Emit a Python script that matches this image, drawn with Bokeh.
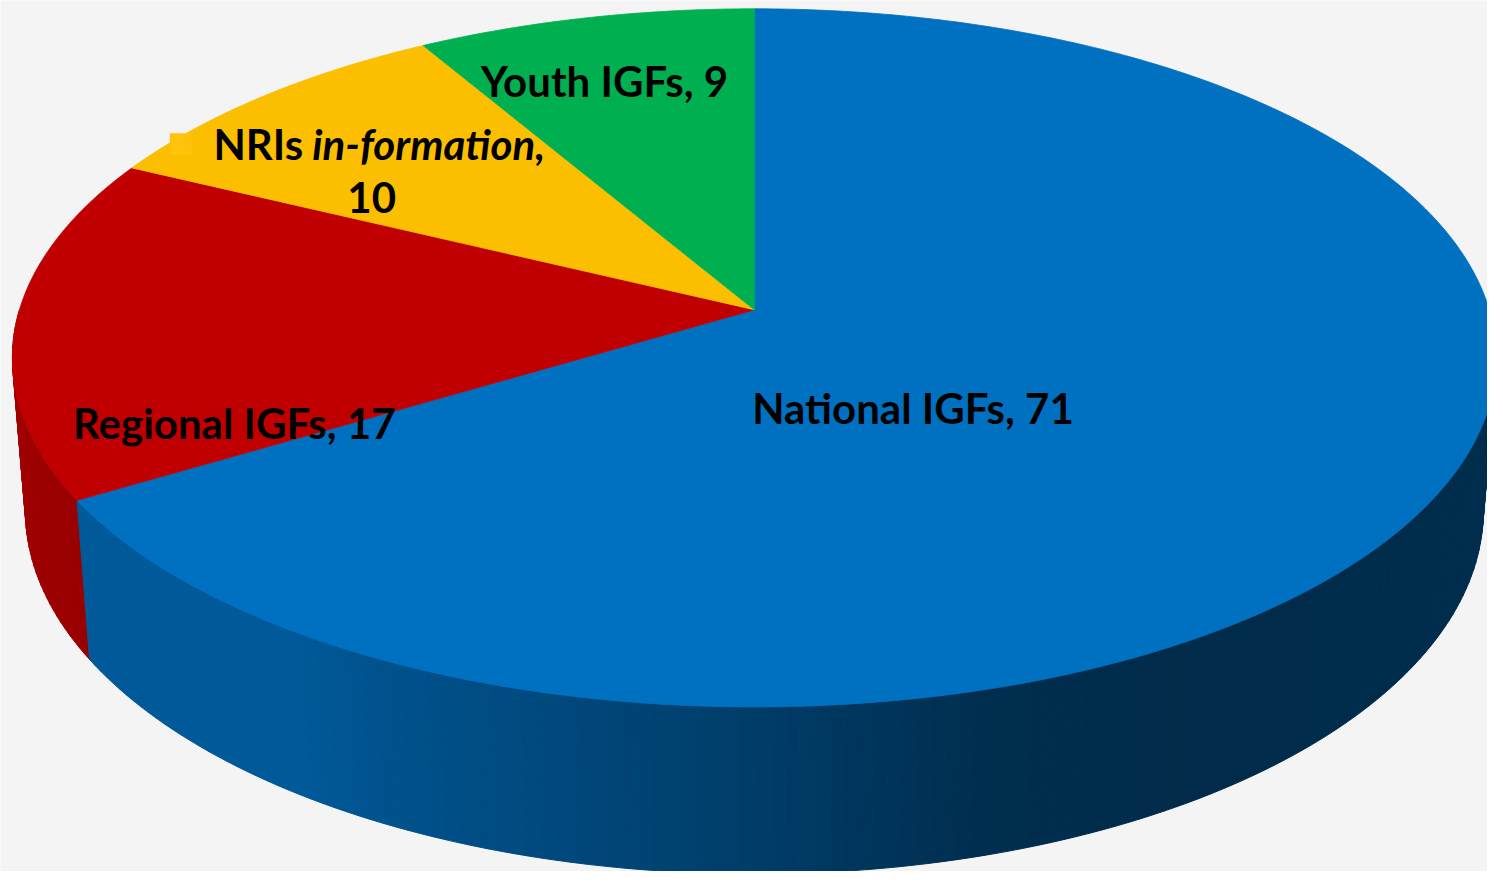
import numpy as np
from bokeh.plotting import figure
from bokeh.models import Range1d
from bokeh.embed import file_html
from bokeh.resources import INLINE
from bokeh.core.properties import value

# ---------------- data ----------------
categories = ["National IGFs", "Regional IGFs", "NRIs in-formation", "Youth IGFs"]
counts = [71, 17, 10, 9]
top_colors = ["#0070C0", "#C00000", "#FBBF00", "#00B050"]

# ---------------- layout / camera ----------------
CX, CY = 762.0, 315.0          # projected pie centre (screen px)
F = 4766.0                      # focal scale
DIST = 6.416                    # camera distance (pie radius units)
ALPHA = np.radians(28.0)        # elevation
THICK = 0.239                   # pie thickness (radius units)

# label placement in pie polar coords (angle clockwise from back, radius frac)
label_theta = [143.0, 245.0, 308.0, 343.0]
label_r = [0.345, 0.747, 0.70, 0.769]

FONT = "Lato"
FSIZE = "42px"


def project(theta_deg, r, level):
    th = np.radians(theta_deg)
    u = r * np.sin(th)
    v = r * np.cos(th)
    h = -THICK * level
    yc = h * np.cos(ALPHA) + v * np.sin(ALPHA)
    d = DIST + v * np.cos(ALPHA) - h * np.sin(ALPHA)
    return CX + F * u / d, CY - F * yc / d


def hex_rgb(c):
    c = c.lstrip("#")
    return tuple(int(c[i:i + 2], 16) for i in (0, 2, 4))


def shade(c, k):
    r, g, b = hex_rgb(c)
    return "#%02x%02x%02x" % (int(r * k), int(g * k), int(b * k))


shade_theta = [90, 105, 150, 165, 184, 196, 204, 214, 240, 270]
shade_k = [0.42, 0.41, 0.385, 0.42, 0.58, 0.667, 0.72, 0.80, 0.80, 0.87]

total = float(sum(counts))
edges = np.concatenate([[0.0], np.cumsum(counts) / total * 360.0])

p = figure(width=1487, height=871, x_range=Range1d(0, 1503), y_range=Range1d(887, 0),
           x_axis_type=None, y_axis_type=None, toolbar_location=None,
           output_backend="svg", min_border=0)
p.grid.visible = False
p.outline_line_color = None
p.background_fill_color = "#F4F4F4"
p.border_fill_color = "#F4F4F4"

# ---- side walls (front half), drawn back-to-front ----
strips = []
for i in range(len(counts)):
    a0, a1 = edges[i], edges[i + 1]
    lo, hi = max(a0, 90.0), min(a1, 270.0)
    if hi <= lo:
        continue
    n = max(1, int(np.ceil(hi - lo)))
    bs = np.linspace(lo, hi, n + 1)
    for b0, b1 in zip(bs[:-1], bs[1:]):
        mid = 0.5 * (b0 + b1)
        x0t, y0t = project(b0, 1, 0)
        x1t, y1t = project(b1, 1, 0)
        x1b, y1b = project(b1, 1, 1)
        x0b, y0b = project(b0, 1, 1)
        col = shade(top_colors[i], float(np.interp(mid, shade_theta, shade_k)))
        strips.append((np.cos(np.radians(mid)), [x0t, x1t, x1b, x0b], [y0t, y1t, y1b, y0b], col))
strips.sort(key=lambda s: -s[0])
p.patches(xs=[s[1] for s in strips], ys=[s[2] for s in strips],
          fill_color=[s[3] for s in strips], line_color=[s[3] for s in strips], line_width=1)

# ---- top faces ----
txs, tys = [], []
for i in range(len(counts)):
    a0, a1 = edges[i], edges[i + 1]
    n = max(2, int((a1 - a0) / 0.5) + 1)
    th = np.linspace(a0, a1, n)
    ax, ay = project(th, 1, 0)
    txs.append([CX] + list(ax))
    tys.append([CY] + list(ay))
p.patches(xs=txs, ys=tys, fill_color=top_colors, line_color=top_colors, line_width=0.8)

# ---- labels ----
lx, ly = project(np.array(label_theta), np.array(label_r), 0)
simple = [0, 1, 3]
p.text(x=[lx[i] for i in simple], y=[ly[i] for i in simple],
       text=["%s, %d" % (categories[i], counts[i]) for i in simple],
       text_font=value(FONT), text_font_style="bold", text_font_size=FSIZE,
       text_color="black", text_align="center", text_baseline="middle")

# two-line label with italic part
k = 2
name_a, name_b = categories[k].split(" ", 1)
x_c, y_c = lx[k], ly[k]
line1_y = y_c - 27
line2_y = y_c + 28
left = x_c - 160
p.rect(x=[left - 33], y=[line1_y], width=22, height=22, fill_color="#FFC30C", line_color=None)
p.text(x=[left], y=[line1_y], text=[name_a], text_font=value(FONT), text_font_style="bold",
       text_font_size=FSIZE, text_color="black", text_align="left", text_baseline="middle")
p.text(x=[left + 100], y=[line1_y], text=[name_b + ","], text_font=value(FONT),
       text_font_style="bold italic", text_font_size=FSIZE, text_color="black",
       text_align="left", text_baseline="middle")
p.text(x=[x_c], y=[line2_y], text=[str(counts[k])], text_font=value(FONT), text_font_style="bold",
       text_font_size=FSIZE, text_color="black", text_align="center", text_baseline="middle")

open("out.html", "w").write(file_html(p, INLINE))
